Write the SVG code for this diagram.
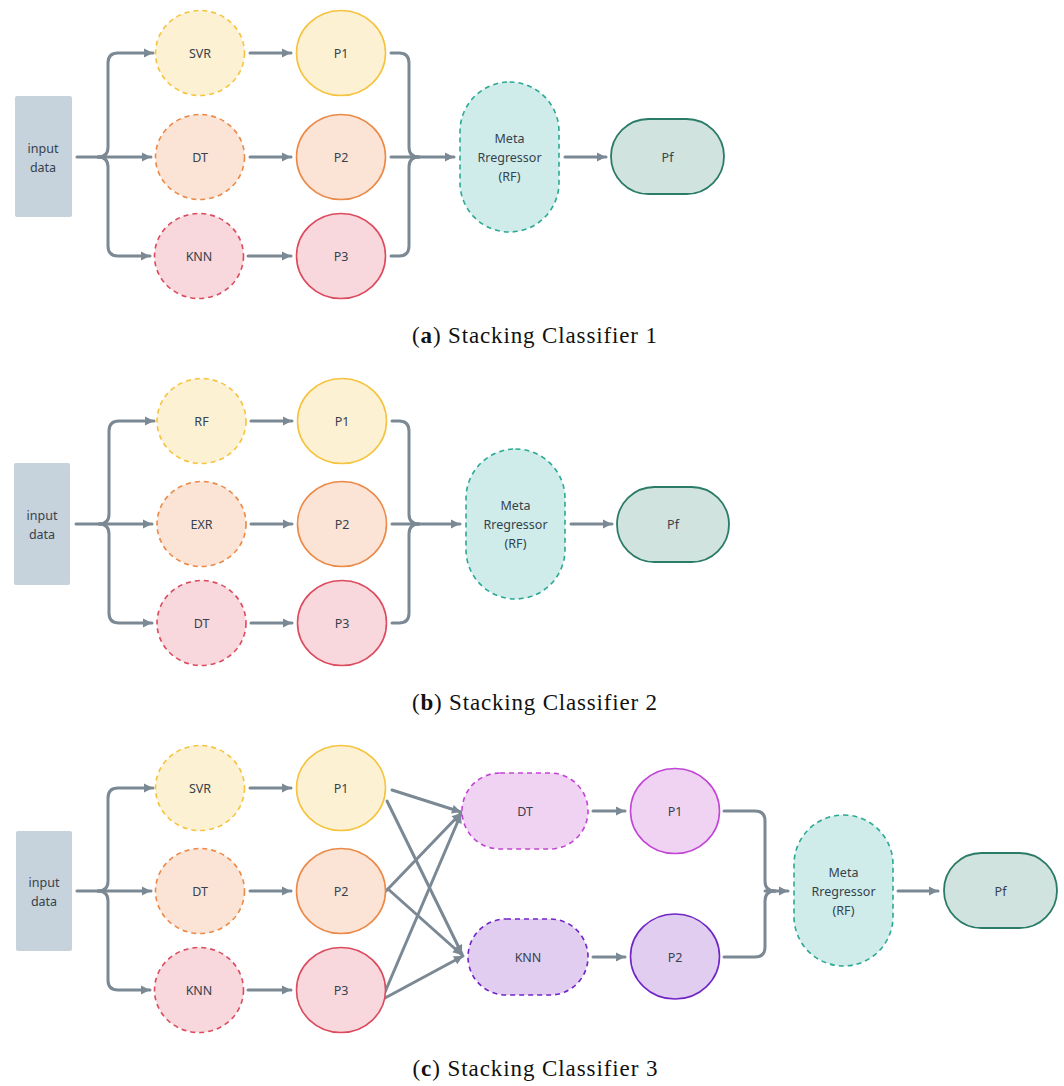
<svg xmlns="http://www.w3.org/2000/svg" width="1064" height="1086" viewBox="0 0 1064 1086">
<defs>
<marker id="ah" markerUnits="userSpaceOnUse" markerWidth="12" markerHeight="12" viewBox="0 0 12 12" refX="10" refY="6" orient="auto">
<path d="M1,1.5 L10,6 L1,10.5 Z" fill="#7b8995"/>
</marker>
<style>
.bg{fill:#ffffff}
.c{fill:none;stroke:#7b8995;stroke-width:3;stroke-linecap:round;stroke-linejoin:round}
.a{marker-end:url(#ah)}
.t{font-family:"Noto Sans","DejaVu Sans",sans-serif;font-size:12.5px;fill:#36424d;text-anchor:middle;dominant-baseline:central}
.cap{font-family:"Liberation Serif","Times New Roman",serif;font-size:23px;fill:#111;text-anchor:middle}
.inp{fill:#c6d2dc}
.y{fill:#fdf1d4;stroke:#f6c33e;stroke-width:1.6}
.o{fill:#fbe4d6;stroke:#ec8946;stroke-width:1.6}
.r{fill:#f8d8dc;stroke:#dc4a5e;stroke-width:1.6}
.d{stroke-dasharray:5 4}
.m{fill:#cfecea;stroke:#2aa993;stroke-width:1.6;stroke-dasharray:5 4}
.pf{fill:#d1e3de;stroke:#2a7b67;stroke-width:1.8}
.pu{fill:#f0d3f3;stroke:#c246d5;stroke-width:1.6}
.pv{fill:#e0cdf0;stroke:#7125c6;stroke-width:1.6}
</style>
</defs>
<rect class="bg" x="0" y="0" width="1064" height="1086"/>

<!-- ============ Panel (a) ============ -->
<g id="a-connectors">
<path class="c a" d="M77,157 H151"/>
<path class="c a" d="M98,157 Q108,157 108,147 V63 Q108,53 118,53 H153"/>
<path class="c a" d="M98,157 Q108,157 108,167 V246 Q108,256 118,256 H150"/>
<path class="c a" d="M250,53 H291"/>
<path class="c a" d="M250,157 H291"/>
<path class="c a" d="M248,256 H291"/>
<path class="c" d="M391,53 H399 Q409,53 409,63 V147 Q409,157 419,157"/>
<path class="c" d="M391,256 H399 Q409,256 409,246 V167 Q409,157 419,157"/>
<path class="c a" d="M391,157 H454"/>
<path class="c a" d="M565,157 H606"/>
</g>
<g id="a-input"><rect class="inp" x="15" y="96" width="57" height="121" rx="2"/><text class="t" x="43" y="148">input</text><text class="t" x="43" y="167">data</text></g>
<g id="a-svr"><ellipse class="y d" cx="200" cy="53" rx="44.5" ry="42.5"/><text class="t" x="200" y="53">SVR</text></g>
<g id="a-dt"><ellipse class="o d" cx="200" cy="157" rx="44.5" ry="42.5"/><text class="t" x="200" y="157">DT</text></g>
<g id="a-knn"><ellipse class="r d" cx="199" cy="256" rx="44.5" ry="42.5"/><text class="t" x="199" y="256">KNN</text></g>
<g id="a-p1"><ellipse class="y" cx="341" cy="53" rx="44.5" ry="42.5"/><text class="t" x="341" y="53">P1</text></g>
<g id="a-p2"><ellipse class="o" cx="341" cy="157" rx="44.5" ry="42.5"/><text class="t" x="341" y="157">P2</text></g>
<g id="a-p3"><ellipse class="r" cx="341" cy="256" rx="44.5" ry="42.5"/><text class="t" x="341" y="256">P3</text></g>
<g id="a-meta"><rect class="m" x="460" y="82" width="99" height="150" rx="49.5"/><text class="t" x="509.5" y="138">Meta</text><text class="t" x="509.5" y="157">Rregressor</text><text class="t" x="509.5" y="176">(RF)</text></g>
<g id="a-pf"><rect class="pf" x="611" y="119" width="113" height="75" rx="37.5"/><text class="t" x="667.5" y="157">Pf</text></g>
<text class="cap" x="534.5" y="343" textLength="245" lengthAdjust="spacing">(<tspan font-weight="bold">a</tspan>) Stacking Classifier 1</text>

<!-- ============ Panel (b) ============ -->
<g id="b-connectors">
<path class="c a" d="M76,524 H152"/>
<path class="c a" d="M99,524 Q109,524 109,514 V431 Q109,421 119,421 H154"/>
<path class="c a" d="M99,524 Q109,524 109,534 V613 Q109,623 119,623 H152"/>
<path class="c a" d="M251,421 H292"/>
<path class="c a" d="M251,524 H292"/>
<path class="c a" d="M251,623 H292"/>
<path class="c" d="M392,421 H399 Q409,421 409,431 V514 Q409,524 419,524"/>
<path class="c" d="M392,623 H399 Q409,623 409,613 V534 Q409,524 419,524"/>
<path class="c a" d="M392,524 H460"/>
<path class="c a" d="M571,524 H612"/>
</g>
<g id="b-input"><rect class="inp" x="14" y="463" width="56" height="122" rx="2"/><text class="t" x="42" y="515">input</text><text class="t" x="42" y="534">data</text></g>
<g id="b-rf"><ellipse class="y d" cx="201.5" cy="421" rx="44.5" ry="42.5"/><text class="t" x="201.5" y="421">RF</text></g>
<g id="b-exr"><ellipse class="o d" cx="201.5" cy="524" rx="44.5" ry="42.5"/><text class="t" x="201.5" y="524">EXR</text></g>
<g id="b-dt"><ellipse class="r d" cx="201.5" cy="623" rx="44.5" ry="42.5"/><text class="t" x="201.5" y="623">DT</text></g>
<g id="b-p1"><ellipse class="y" cx="342" cy="421" rx="44.5" ry="42.5"/><text class="t" x="342" y="421">P1</text></g>
<g id="b-p2"><ellipse class="o" cx="342" cy="524" rx="44.5" ry="42.5"/><text class="t" x="342" y="524">P2</text></g>
<g id="b-p3"><ellipse class="r" cx="342" cy="623" rx="44.5" ry="42.5"/><text class="t" x="342" y="623">P3</text></g>
<g id="b-meta"><rect class="m" x="466" y="449" width="99" height="150" rx="49.5"/><text class="t" x="515.5" y="505">Meta</text><text class="t" x="515.5" y="524">Rregressor</text><text class="t" x="515.5" y="543">(RF)</text></g>
<g id="b-pf"><rect class="pf" x="617" y="487" width="112" height="75" rx="37.5"/><text class="t" x="673" y="524.5">Pf</text></g>
<text class="cap" x="534.5" y="710" textLength="245" lengthAdjust="spacing">(<tspan font-weight="bold">b</tspan>) Stacking Classifier 2</text>

<!-- ============ Panel (c) ============ -->
<g id="c-connectors">
<path class="c a" d="M77,891 H151"/>
<path class="c a" d="M98,891 Q108,891 108,881 V798 Q108,788 118,788 H153"/>
<path class="c a" d="M98,891 Q108,891 108,901 V980 Q108,990 118,990 H150"/>
<path class="c a" d="M250,788 H291"/>
<path class="c a" d="M250,891 H291"/>
<path class="c a" d="M248,990 H291"/>
<path class="c a" d="M392,790 L461,812"/>
<path class="c a" d="M387,801 L462,954"/>
<path class="c a" d="M386,891 L461,813"/>
<path class="c a" d="M388,889 L462,955"/>
<path class="c a" d="M385,992 L461,814"/>
<path class="c a" d="M385,998 L463,956"/>
<path class="c a" d="M593,811 H625"/>
<path class="c a" d="M593,957 H625"/>
<path class="c" d="M724,811 H755 Q765,811 765,821 V881 Q765,891 775,891"/>
<path class="c" d="M724,957 H755 Q765,957 765,947 V901 Q765,891 775,891"/>
<path class="c a" d="M765,891 H788"/>
<path class="c a" d="M898,891 H938"/>
</g>
<g id="c-input"><rect class="inp" x="16" y="831" width="56" height="120" rx="2"/><text class="t" x="44" y="882">input</text><text class="t" x="44" y="901">data</text></g>
<g id="c-svr"><ellipse class="y d" cx="200" cy="788" rx="44.5" ry="42.5"/><text class="t" x="200" y="788">SVR</text></g>
<g id="c-dt"><ellipse class="o d" cx="200" cy="891" rx="44.5" ry="42.5"/><text class="t" x="200" y="891">DT</text></g>
<g id="c-knn"><ellipse class="r d" cx="199" cy="990" rx="44.5" ry="42.5"/><text class="t" x="199" y="990">KNN</text></g>
<g id="c-p1"><ellipse class="y" cx="341" cy="788" rx="44.5" ry="42.5"/><text class="t" x="341" y="788">P1</text></g>
<g id="c-p2"><ellipse class="o" cx="341" cy="891" rx="44.5" ry="42.5"/><text class="t" x="341" y="891">P2</text></g>
<g id="c-p3"><ellipse class="r" cx="341" cy="990" rx="44.5" ry="42.5"/><text class="t" x="341" y="990">P3</text></g>
<g id="c-dt2"><rect class="pu d" x="462" y="773" width="126" height="76" rx="38"/><text class="t" x="525" y="811">DT</text></g>
<g id="c-knn2"><rect class="pv d" x="468" y="919" width="120" height="76" rx="38"/><text class="t" x="528" y="957">KNN</text></g>
<g id="c-q1"><ellipse class="pu" cx="675" cy="811" rx="44.5" ry="42.5"/><text class="t" x="675" y="811">P1</text></g>
<g id="c-q2"><ellipse class="pv" cx="675" cy="956.5" rx="44.5" ry="42.5"/><text class="t" x="675" y="957">P2</text></g>
<g id="c-meta"><rect class="m" x="794" y="815" width="99" height="151" rx="49.5"/><text class="t" x="843.5" y="872">Meta</text><text class="t" x="843.5" y="891">Rregressor</text><text class="t" x="843.5" y="910">(RF)</text></g>
<g id="c-pf"><rect class="pf" x="944" y="853" width="113" height="75" rx="37.5"/><text class="t" x="1000.5" y="891">Pf</text></g>
<text class="cap" x="535" y="1076" textLength="245" lengthAdjust="spacing">(<tspan font-weight="bold">c</tspan>) Stacking Classifier 3</text>
</svg>
